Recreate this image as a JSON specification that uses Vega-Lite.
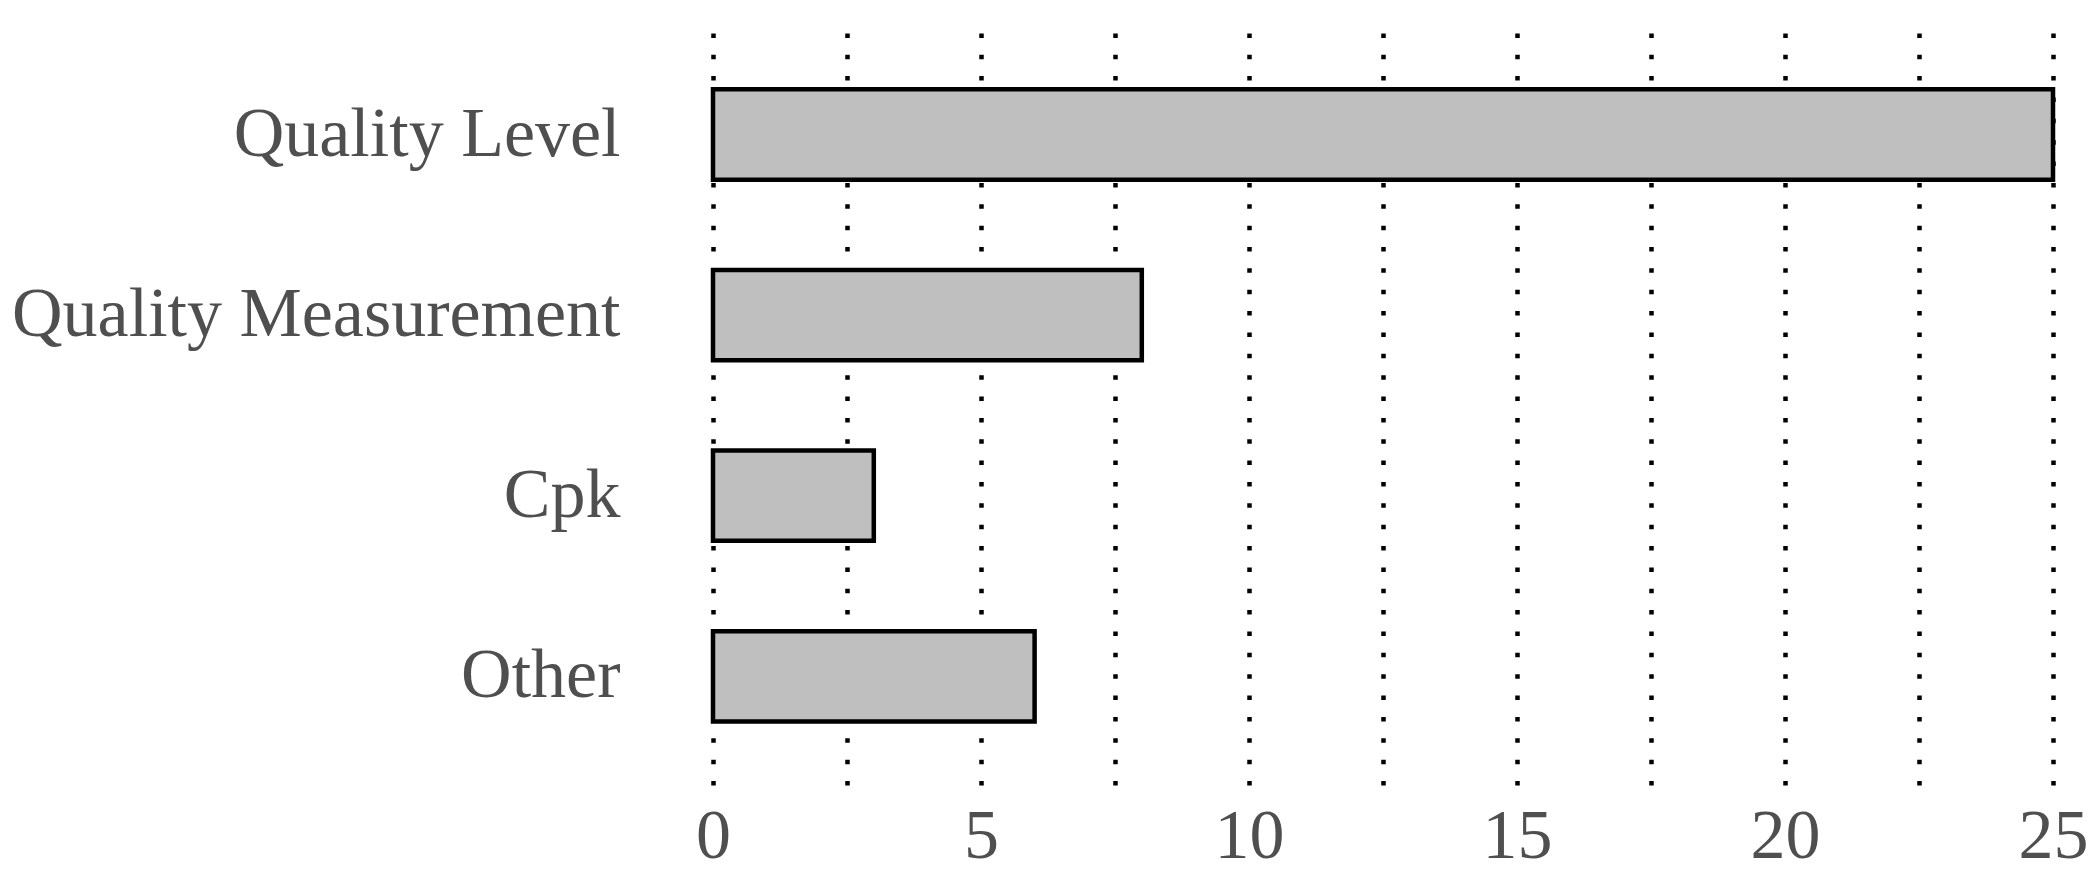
{
  "$schema": "https://vega.github.io/schema/vega-lite/v6.json",
  "width": 1340,
  "height": 752,
  "autosize": {"type": "none"},
  "padding": {"left": 713, "top": 33, "right": 47, "bottom": 97},
  "background": "white",
  "data": {
    "values": [
      {"category": "Quality Level", "count": 25},
      {"category": "Quality Measurement", "count": 8},
      {"category": "Cpk", "count": 3},
      {"category": "Other", "count": 6}
    ]
  },
  "mark": {"type": "bar", "fill": "#bfbfbf", "stroke": "black", "strokeWidth": 4.5, "strokeJoin": "miter"},
  "encoding": {
    "y": {
      "field": "category",
      "type": "nominal",
      "sort": null,
      "scale": {"paddingInner": 0.5, "paddingOuter": 0.332, "align": 0.47},
      "axis": {
        "title": null,
        "domain": false,
        "ticks": false,
        "tickSize": 0,
        "grid": false,
        "labelPadding": 93,
        "labelFont": "Liberation Serif",
        "labelFontSize": 70,
        "labelColor": "#4f4f4f",
        "labelLimit": 1000
      }
    },
    "x": {
      "field": "count",
      "type": "quantitative",
      "scale": {"domain": [0, 25], "nice": false},
      "axis": {
        "title": null,
        "domain": false,
        "ticks": false,
        "tickSize": 0,
        "values": [0, 2.5, 5, 7.5, 10, 12.5, 15, 17.5, 20, 22.5, 25],
        "labelExpr": "datum.value % 5 == 0 ? datum.label : ''",
        "labelFlush": false,
        "labelOverlap": false,
        "labelPadding": 17,
        "labelFont": "Liberation Serif",
        "labelFontSize": 70,
        "labelColor": "#4f4f4f",
        "grid": true,
        "gridColor": "black",
        "gridOpacity": 1,
        "gridWidth": 4.5,
        "gridDash": [4.5, 16.86]
      }
    }
  },
  "config": {"view": {"stroke": null}}
}
